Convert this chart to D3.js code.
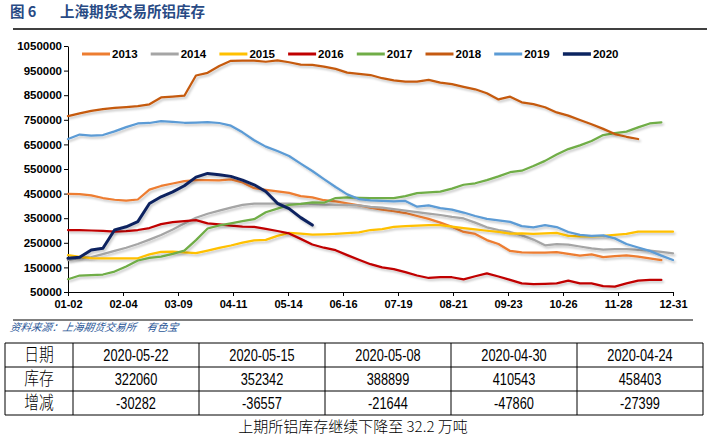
<!DOCTYPE html>
<html><head><meta charset="utf-8">
<script src="https://cdn.jsdelivr.net/npm/d3@7"></script>
<style>
html,body{margin:0;padding:0;background:#fff;}
svg{display:block;}
</style></head><body>
<svg id="c" width="707" height="438"></svg>
<script>
// ---------- data ----------
const tickLabels = ['01-02','02-04','03-09','04-11','05-14','06-16','07-19','08-21','09-23','10-26','11-28','12-31'];
const yTicks = [50000,150000,250000,350000,450000,550000,650000,750000,850000,950000,1050000];
const years = ['2013','2014','2015','2016','2017','2018','2019','2020'];
const colors = ['#ED7D31','#A5A5A5','#FFC000','#C00000','#70AD47','#C55A11','#5B9BD5','#0C2460'];

const s2013 = [449000,448000,443000,432000,425000,421000,426000,466000,481000,491000,501000,505000,505000,504000,508000,495000,472000,465000,459000,453000,440000,435000,423000,418000,410000,402000,393000,385000,379000,371000,359000,347000,332000,315000,294000,286000,261000,245000,217000,211000,210000,210000,212000,205000,198000,203000,192000,196000,199000,194000,187000,180000];
const s2014 = [180000,188000,192000,204000,217000,230000,245000,263000,282000,304000,328000,352000,368000,381000,393000,404000,409000,409000,409000,409000,408000,407000,405000,404000,404000,402000,396000,393000,387000,381000,375000,369000,363000,355000,349000,332000,313000,302000,294000,280000,263000,240000,245000,243000,235000,227000,222000,224000,224000,221000,218000,213000,207000];
const s2015 = [200000,193000,188000,187000,187000,187000,187000,203000,213000,214000,211000,208000,218000,229000,239000,251000,260000,262000,278000,290000,287000,283000,284000,286000,289000,292000,302000,306000,315000,318000,320000,322000,322000,316000,310000,305000,299000,294000,287000,288000,286000,288000,290000,278000,276000,276000,278000,282000,286000,295000,295000,295000,295000];
const s2016 = [302000,302000,300000,298000,295000,297000,302000,310000,326000,334000,338000,342000,329000,325000,320000,316000,315000,307000,298000,288000,266000,243000,230000,220000,200000,181000,163000,150000,143000,131000,117000,107000,110000,110000,101000,114000,126000,113000,99000,85000,82000,83000,85000,96000,85000,85000,74000,72000,85000,96000,99000,99000];
const s2017 = [102000,117000,119000,121000,133000,154000,178000,189000,194000,205000,218000,261000,308000,321000,329000,338000,346000,374000,389000,404000,408000,414000,413000,432000,435000,433000,432000,432000,432000,440000,452000,455000,458000,470000,486000,492000,505000,520000,537000,543000,562000,583000,609000,631000,646000,664000,688000,696000,702000,719000,735000,740000];
const s2018 = [765000,776000,786000,793000,798000,802000,806000,813000,841000,844000,848000,930000,941000,969000,990000,991000,991000,986000,992000,984000,974000,973000,966000,957000,942000,937000,932000,919000,910000,905000,905000,912000,901000,895000,884000,874000,858000,833000,844000,821000,814000,801000,780000,767000,749000,732000,713000,692000,681000,672000];
const s2019 = [672000,690000,686000,688000,703000,720000,735000,737000,745000,742000,738000,739000,741000,737000,726000,699000,667000,641000,623000,603000,572000,542000,509000,477000,447000,428000,422000,420000,418000,420000,397000,402000,391000,385000,373000,359000,347000,341000,335000,318000,313000,322000,314000,294000,282000,278000,280000,268000,245000,231000,217000,198000,180000];
const s2020 = [187000,191000,221000,228000,302000,315000,336000,410000,437000,457000,482000,517000,532000,527000,520000,505000,485802,458403,410543,388899,352342,322060];
const seriesList = [s2013,s2014,s2015,s2016,s2017,s2018,s2019,s2020];

const tableHead = ['日期','库存','增减'];
const tableDates = ['2020-05-22','2020-05-15','2020-05-08','2020-04-30','2020-04-24'];
const tableStock = [322060,352342,388899,410543,458403];
const tableChange = [-30282,-36557,-21644,-47860,-27399];

// ---------- drawing ----------
const svg = d3.select('#c');
const defs = svg.append('defs');
const f = defs.append('filter').attr('id','sh').attr('x','-10%').attr('y','-10%').attr('width','120%').attr('height','130%');
f.append('feDropShadow').attr('dx',1.5).attr('dy',2).attr('stdDeviation',1)
  .attr('flood-color','#000').attr('flood-opacity',0.22);

const cjk = '"Noto Sans CJK SC","Noto Sans",sans-serif';
const latin = '"Liberation Sans",Arial,sans-serif';

// title
svg.append('text').attr('x',10).attr('y',17).text('图 6')
  .attr('font-family',cjk).attr('font-weight',700).attr('font-size',14.5).attr('fill','#284A84');
svg.append('text').attr('x',60).attr('y',17).text('上海期货交易所铝库存')
  .attr('font-family',cjk).attr('font-weight',700).attr('font-size',14.5).attr('fill','#284A84');
svg.append('line').attr('x1',13).attr('x2',707).attr('y1',29).attr('y2',29)
  .attr('stroke','#000').attr('stroke-width',1.5);

// scales
const x = d3.scaleLinear().domain([0,52]).range([68,673]);
const y = d3.scaleLinear().domain([50000,1050000]).range([292,46]);

// axes
const xAxis = d3.axisBottom(x)
  .tickValues(d3.range(tickLabels.length).map(k => k*52/(tickLabels.length-1)))
  .tickFormat((d,i) => tickLabels[i]).tickSize(4).tickSizeOuter(0).tickPadding(4);
const yAxis = d3.axisLeft(y).tickValues(yTicks).tickFormat(d3.format('d'))
  .tickSize(4).tickSizeOuter(0).tickPadding(2);

const gx = svg.append('g').attr('transform','translate(0,292)').call(xAxis);
const gy = svg.append('g').attr('transform','translate(68,0)').call(yAxis);
[gx,gy].forEach(g => {
  g.select('.domain').attr('stroke','#000').attr('stroke-width',1);
  g.selectAll('.tick line').attr('stroke','#000');
  g.selectAll('.tick text').attr('font-family',latin).attr('font-weight',700)
    .attr('font-size',11).attr('fill','#000');
});
gy.selectAll('.tick text').attr('font-size',11.5);

// lines
const line = d3.line().x((d,i) => x(i)).y(d => y(d));
seriesList.forEach((s,k) => {
  svg.append('path').datum(s).attr('d',line)
    .attr('fill','none').attr('stroke',colors[k])
    .attr('stroke-width', k === 7 ? 3 : 2.25)
    .attr('stroke-linejoin','round').attr('stroke-linecap','round')
    .attr('filter','url(#sh)');
});

// legend
const lg = svg.append('g');
years.forEach((yr,k) => {
  const x0 = 82 + k*68.7;
  lg.append('line').attr('x1',x0).attr('x2',x0+28).attr('y1',54).attr('y2',54)
    .attr('stroke',colors[k]).attr('stroke-width', k === 7 ? 3.5 : 3);
  lg.append('text').attr('x',x0+30).attr('y',58).text(yr)
    .attr('font-family',latin).attr('font-weight',700).attr('font-size',11.5).attr('fill','#000');
});

// separator and source
svg.append('line').attr('x1',13).attr('x2',693).attr('y1',320).attr('y2',320)
  .attr('stroke','#000').attr('stroke-width',1);
svg.append('text').attr('x',10).attr('y',331).text('资料来源：上海期货交易所　有色宝')
  .attr('font-family',cjk).attr('font-style','italic').attr('font-size',10.5).attr('fill','#2B5797')
  .attr('transform','skewX(-10) translate(58,0)');

// table
const colX = [5,73,199,325,451,577,703];
const rowY = [343,367,391,415];
const tg = svg.append('g');
rowY.forEach(r => tg.append('line').attr('x1',colX[0]).attr('x2',colX[6]).attr('y1',r).attr('y2',r)
  .attr('stroke','#000').attr('stroke-width',1));
colX.forEach(c => tg.append('line').attr('x1',c).attr('x2',c).attr('y1',rowY[0]).attr('y2',rowY[3])
  .attr('stroke','#000').attr('stroke-width',1));
function cell(txt, ci, ri, isCjk) {
  const cx = (colX[ci]+colX[ci+1])/2, cy = (rowY[ri]+rowY[ri+1])/2;
  tg.append('text').attr('transform',`translate(${cx},${cy}) scale(${isCjk?0.82:0.8},1)`)
    .attr('text-anchor','middle').attr('dy', isCjk ? '0.36em' : '0.36em').text(txt)
    .attr('font-family', isCjk ? cjk : latin).attr('font-weight', isCjk ? 300 : 400)
    .attr('font-size', isCjk ? 18 : 16).attr('fill','#000');
}
tableHead.forEach((h,ri) => cell(h,0,ri,true));
tableDates.forEach((d,i) => cell(d,i+1,0,false));
tableStock.forEach((d,i) => cell(String(d),i+1,1,false));
tableChange.forEach((d,i) => cell(String(d),i+1,2,false));

// caption
svg.append('text').attr('x',353).attr('y',432).attr('text-anchor','middle')
  .text('上期所铝库存继续下降至 32.2 万吨')
  .attr('font-family',cjk).attr('font-weight',300).attr('font-size',15).attr('fill','#000');
</script>
</body></html>
